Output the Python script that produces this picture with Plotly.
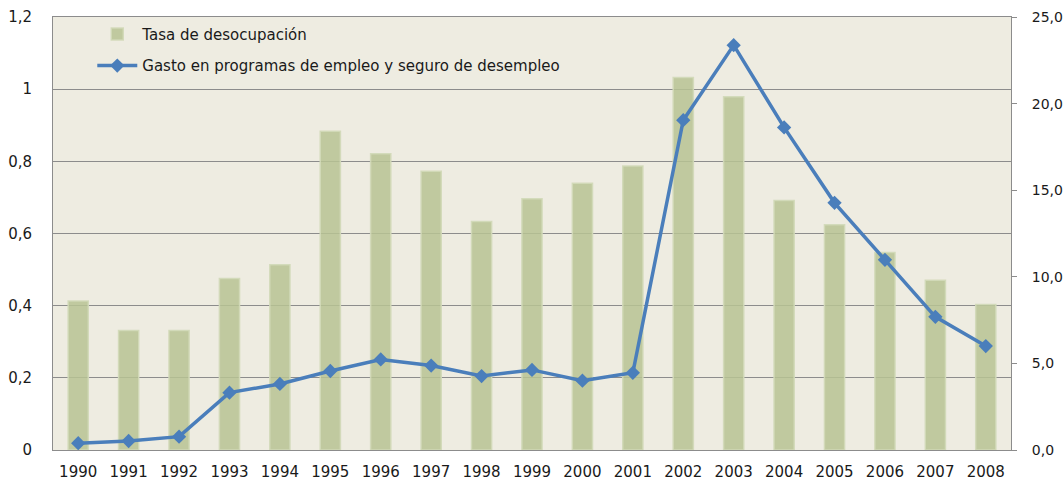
import plotly.graph_objects as go

years = [str(y) for y in range(1990, 2009)]
desocupacion = [8.6, 6.9, 6.9, 9.9, 10.7, 18.4, 17.1, 16.1, 13.2, 14.5,
                15.4, 16.4, 21.5, 20.4, 14.4, 13.0, 11.4, 9.8, 8.4]
gasto = [0.019, 0.025, 0.037, 0.159, 0.183, 0.219, 0.251, 0.234, 0.205, 0.222,
         0.192, 0.214, 0.914, 1.122, 0.894, 0.685, 0.527, 0.369, 0.288]

FONT = "DejaVu Sans"
AXIS_COLOR = "#8C8C8C"
FS = 15

fig = go.Figure()
fig.add_trace(go.Bar(
    x=years, y=desocupacion, name="Tasa de desocupación",
    yaxis="y", legendgroup="a",
    marker=dict(color="rgba(183,195,147,0.85)",
                line=dict(color="rgba(210,217,184,0.9)", width=1.5)),
))
fig.add_trace(go.Scatter(
    x=years, y=gasto, name="Gasto en programas de empleo y seguro de desempleo",
    yaxis="y2", legendgroup="b", mode="lines+markers",
    line=dict(color="#4A7EBB", width=3.5),
    marker=dict(symbol="diamond", size=11, color="#4A7EBB"),
))

fig.update_layout(
    width=1063, height=483,
    margin=dict(l=53, r=52, t=17, b=33),
    paper_bgcolor="white",
    plot_bgcolor="#EEECE1",
    separators=",.",
    font=dict(family=FONT, size=FS, color="#1A1A1A"),
    bargap=0.6,
    showlegend=True,
    legend=dict(x=0.041, y=0.998, xanchor="left", yanchor="top",
                bgcolor="rgba(0,0,0,0)", traceorder="grouped",
                tracegroupgap=9, font=dict(family=FONT, size=FS),
                itemwidth=40),
    xaxis=dict(type="category", range=[-0.5, len(years) - 0.5],
               showgrid=False, showline=True, linecolor=AXIS_COLOR, linewidth=1,
               ticks="outside", ticklen=7, tickcolor="rgba(0,0,0,0)",
               ticklabelstandoff=1,
               tickfont=dict(size=FS), mirror=True, automargin=False),
    yaxis=dict(side="right", range=[0, 25], dtick=5, tick0=0, tickformat=".1f",
               showgrid=False, zeroline=False, showline=True,
               linecolor=AXIS_COLOR, linewidth=1, ticks="outside", ticklen=5,
               tickcolor=AXIS_COLOR, ticklabelstandoff=12,
               tickfont=dict(size=14), automargin=False),
    yaxis2=dict(side="left", overlaying="y", range=[0, 1.2], dtick=0.2, tick0=0,
                showgrid=True, gridcolor="#8C8C8C", gridwidth=1, zeroline=False,
                showline=True, linecolor=AXIS_COLOR, linewidth=1,
                ticks="outside", ticklen=8, tickcolor="rgba(0,0,0,0)",
                ticklabelstandoff=9, tickfont=dict(size=FS), automargin=False),
)

# remove the browser's default 8px page margin so the figure fills the window
fig.write_html("out.html", config={"displayModeBar": False},
               post_script="document.body.style.margin='0';")
